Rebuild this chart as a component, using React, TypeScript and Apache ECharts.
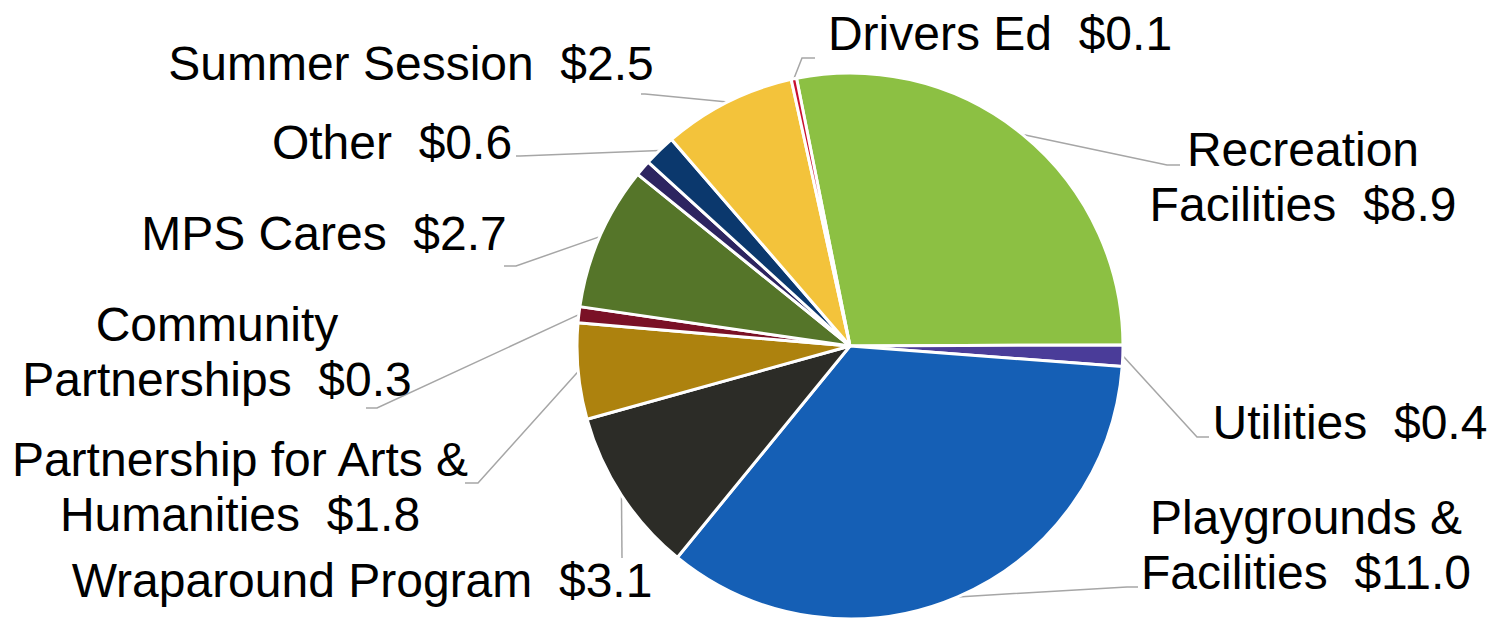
import React, { useEffect, useRef } from 'react';
import * as echarts from 'echarts';

// ---- Data ----
const categories: string[] = [
  'Recreation\nFacilities',
  'Utilities',
  'Playgrounds &\nFacilities',
  'Wraparound Program',
  'Partnership for Arts &\nHumanities',
  'Community\nPartnerships',
  'MPS Cares',
  'Unlabeled',
  'Other',
  'Summer Session',
  'Drivers Ed',
];
const values: number[] = [8.9, 0.4, 11.0, 3.1, 1.8, 0.3, 2.7, 0.3, 0.6, 2.5, 0.1];
const labelVisible: boolean[] = [true, true, true, true, true, true, true, false, true, true, true];

// ---- Styles ----
const colors: string[] = [
  '#8CC043',
  '#4A3C99',
  '#155FB5',
  '#2C2C27',
  '#AD820E',
  '#7A1126',
  '#557529',
  '#2D2460',
  '#0B386D',
  '#F3C33B',
  '#C8102E',
];

// label block centre (x, y), leader bend point (bx, by), leader end point (ex, ey)
const LABEL_LAYOUT: Array<null | { x: number; y: number; bx: number; by: number; ex: number; ey: number }> = [
  { x: 1303, y: 177, bx: 1167, by: 165, ex: 1180, ey: 165 },
  { x: 1350, y: 422, bx: 1197, by: 437, ex: 1209, ey: 437 },
  { x: 1306, y: 545, bx: 1127, by: 587, ex: 1138, ey: 587 },
  { x: 362, y: 580, bx: 622, by: 558, ex: 622, ey: 558 },
  { x: 240, y: 487, bx: 478, by: 483, ex: 465, ey: 483 },
  { x: 217, y: 352, bx: 377, by: 408, ex: 366, ey: 408 },
  { x: 324, y: 233, bx: 516, by: 266, ex: 504, ey: 266 },
  null,
  { x: 392, y: 142, bx: 520, by: 156, ex: 516, ey: 156 },
  { x: 411, y: 63, bx: 645, by: 94, ex: 641, ey: 94 },
  { x: 1000, y: 33, bx: 802, by: 58, ex: 815, ey: 58 },
];

export default function App() {
  const ref = useRef<HTMLDivElement>(null);

  useEffect(() => {
    if (!ref.current) return;
    const chart = echarts.init(ref.current, undefined, { renderer: 'svg' });

    const data = categories.map((name, i) => ({
      name,
      value: values[i],
      itemStyle: { color: colors[i] },
      label: { show: labelVisible[i] },
      labelLine: { show: labelVisible[i] },
    }));

    chart.setOption({
      animation: false,
      backgroundColor: '#ffffff',
      series: [
        {
          type: 'pie',
          center: [850, 346],
          radius: 273,
          startAngle: 101.3,
          clockwise: true,
          avoidLabelOverlap: false,
          itemStyle: { borderColor: '#ffffff', borderWidth: 3 },
          label: {
            show: true,
            position: 'outside',
            color: '#000000',
            fontFamily: '"Liberation Sans", Arial, sans-serif',
            fontSize: 48,
            lineHeight: 55,
            align: 'center',
            formatter: (p: any) => `${p.name}  $${Number(p.value).toFixed(1)}`,
          },
          labelLine: {
            show: true,
            smooth: false,
            length: 20,
            length2: 10,
            lineStyle: { color: '#A6A6A6', width: 1.5 },
          },
          labelLayout: (p: any) => {
            const L = LABEL_LAYOUT[p.dataIndex];
            if (!L) return {};
            const start = p.labelLinePoints && p.labelLinePoints[0] ? p.labelLinePoints[0] : [L.bx, L.by];
            return {
              x: L.x,
              y: L.y,
              align: 'center',
              verticalAlign: 'middle',
              labelLinePoints: [start, [L.bx, L.by], [L.ex, L.ey]],
            };
          },
          data,
        },
      ],
    });

    return () => chart.dispose();
  }, []);

  return (
    <div
      ref={ref}
      style={{ position: 'absolute', left: 0, top: 0, width: 1491, height: 620, background: '#ffffff' }}
    />
  );
}
